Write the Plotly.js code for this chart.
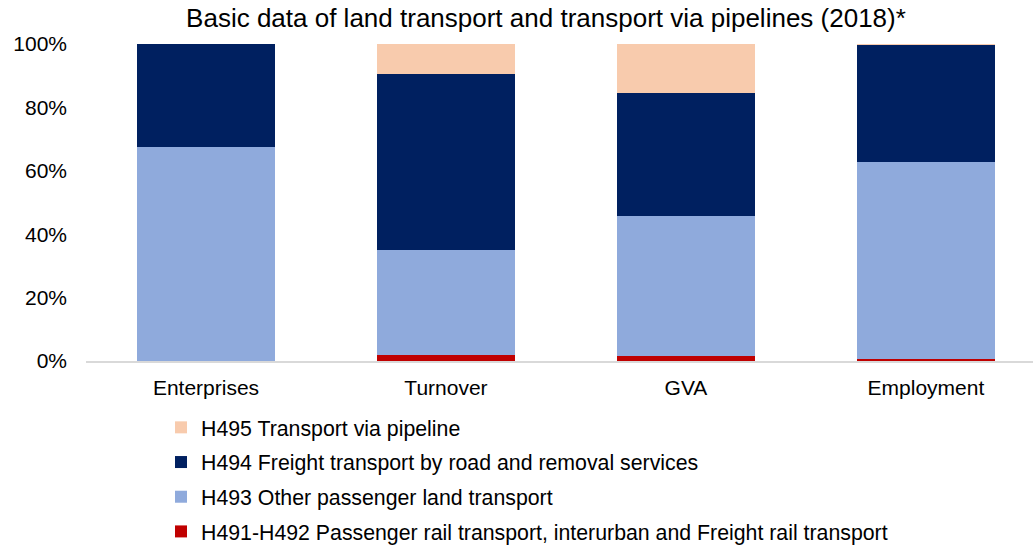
<!DOCTYPE html>
<html>
<head>
<meta charset="utf-8">
<script src="https://cdn.plot.ly/plotly-3.0.1.min.js"></script>
<style>html,body{margin:0;padding:0;background:#fff;}#chart{width:1035px;height:546px;}</style>
</head>
<body>
<div id="chart"></div>
<script>
const categories = ["Enterprises", "Turnover", "GVA", "Employment"];
const rail = [0.1, 1.9, 1.6, 0.5];
const otherPassenger = [67.4, 33.1, 44.2, 62.2];
const freightRoad = [32.5, 55.5, 38.7, 36.9];
const pipeline = [0.0, 9.5, 15.5, 0.4];
const seriesNames = [
  "H491-H492 Passenger rail transport, interurban and Freight rail transport",
  "H493 Other passenger land transport",
  "H494 Freight transport by road and removal services",
  "H495 Transport via pipeline"
];
const seriesColors = ["#C00000", "#8FAADC", "#002060", "#F8CBAD"];
const seriesValues = [rail, otherPassenger, freightRoad, pipeline];

const traces = seriesValues.map((vals, i) => ({
  type: "bar",
  name: seriesNames[i],
  x: categories,
  y: vals.map(v => v / 100),
  width: 0.575,
  marker: {color: seriesColors[i], line: {width: 0}},
  legendgroup: "g" + i,
  legendrank: 1000 - i,
  hoverinfo: "skip"
}));

const layout = {
  width: 1035, height: 546,
  barmode: "stack",
  paper_bgcolor: "#ffffff", plot_bgcolor: "#ffffff",
  font: {family: "Liberation Sans, Arial, sans-serif", color: "#000000", size: 21},
  margin: {l: 86, r: 2, t: 43.5, b: 185, pad: 0, autoexpand: false},
  title: {
    text: "Basic data of land transport and transport via pipelines (2018)*",
    font: {size: 26, color: "#000000"},
    xref: "container", x: 0.5275, xanchor: "center",
    yref: "container", y: 1 - 18 / 546, yanchor: "middle"
  },
  xaxis: {
    range: [-0.5, 3.446],
    showgrid: false, zeroline: false,
    showline: true, linecolor: "#d9d9d9", linewidth: 1.5,
    ticks: "", ticklabelstandoff: 7, tickangle: 0,
    tickfont: {size: 21}
  },
  yaxis: {
    range: [0, 1], dtick: 0.2, tick0: 0, tickformat: ".0%",
    showgrid: false, zeroline: false, showline: false,
    ticks: "", ticklabelstandoff: 18,
    tickfont: {size: 21}
  },
  showlegend: true,
  legend: {
    orientation: "v",
    traceorder: "grouped",
    tracegroupgap: 4,
    xref: "container", yref: "container",
    x: 161 / 1035, xanchor: "left",
    y: 1 - 407 / 546, yanchor: "top",
    font: {size: 21.3, color: "#000000"},
    bgcolor: "rgba(0,0,0,0)"
  }
};

Plotly.newPlot("chart", traces, layout, {displayModeBar: false, staticPlot: true});
</script>
</body>
</html>
